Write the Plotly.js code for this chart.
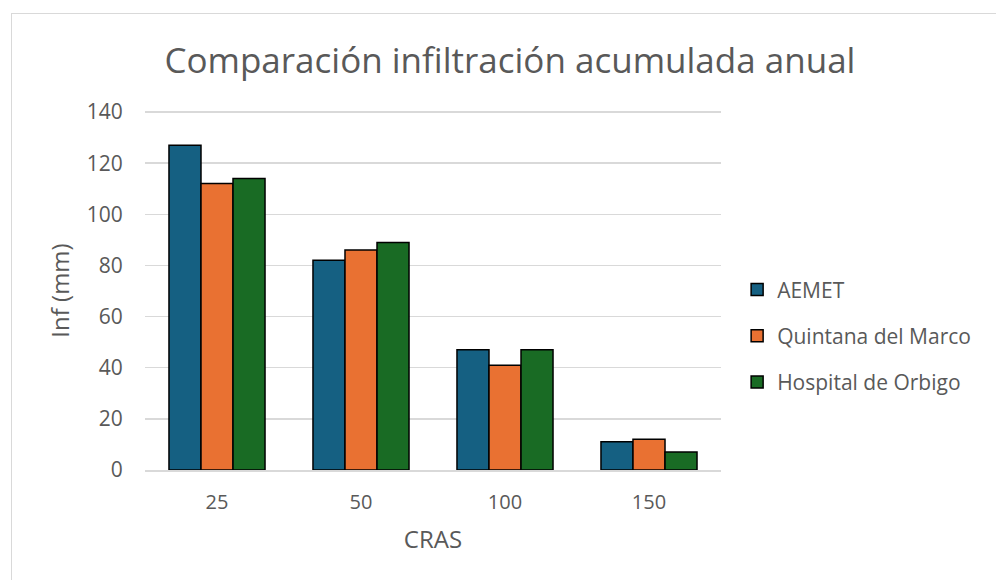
<!DOCTYPE html>
<html>
<head>
<meta charset="utf-8">
<script src="https://cdn.plot.ly/plotly-3.0.1.min.js"></script>
<style>
html,body{margin:0;padding:0;background:#fff;overflow:hidden;}
#chart{width:996px;height:580px;}
#frame{position:absolute;left:11px;top:13px;width:1000px;height:600px;border:1.5px solid #d9d9d9;pointer-events:none;}
</style>
</head>
<body>
<div id="chart"></div>
<div id="frame"></div>
<script>
const categories = ["25", "50", "100", "150"];
const seriesNames = ["AEMET", "Quintana del Marco", "Hospital de Orbigo"];
const aemet = [127, 82, 47, 11];
const quintana = [112, 86, 41, 12];
const hospital = [114, 89, 47, 7];
const colors = ["#156082", "#E97132", "#196B24"];
const yTicks = [0, 20, 40, 60, 80, 100, 120, 140];

const values = [aemet, quintana, hospital];
const font = "Open Sans, sans-serif";
const traces = values.map((v, i) => ({
  type: "bar",
  name: seriesNames[i],
  x: categories,
  y: v,
  legendgroup: "g" + i,
  marker: {color: colors[i], line: {color: "#000000", width: 1.5}},
  hoverinfo: "x+y+name"
}));

const layout = {
  width: 996, height: 580,
  margin: {l: 145, r: 275, t: 111, b: 110},
  paper_bgcolor: "#ffffff", plot_bgcolor: "#ffffff",
  font: {family: font, color: "#595959"},
  title: {text: "Comparación infiltración acumulada anual", font: {family: font, size: 35, color: "#595959"}, x: 0.512, xanchor: "center", y: 0.895, yanchor: "middle"},
  barmode: "group",
  bargap: 0.333,
  bargroupgap: 0,
  xaxis: {
    type: "category",
    tickfont: {size: 20, color: "#595959"},
    showgrid: false,
    showline: true, linecolor: "#d9d9d9", linewidth: 1.5,
    ticks: "outside", ticklen: 13, tickcolor: "rgba(0,0,0,0)",
    title: {text: "CRAS", font: {size: 24, color: "#595959"}, standoff: 17}
  },
  yaxis: {
    range: [0, 140.4],
    tickvals: yTicks,
    ticktext: yTicks.map(String),
    tickfont: {size: 21, color: "#595959"},
    showgrid: true, gridcolor: "#d9d9d9", gridwidth: 1.5,
    zeroline: false,
    showline: false,
    ticks: "outside", ticklen: 17, tickcolor: "rgba(0,0,0,0)",
    title: {text: "Inf (mm)", font: {size: 24, color: "#595959"}, standoff: 10}
  },
  legend: {
    x: 1.028, xanchor: "left", y: 0.374, yanchor: "middle",
    font: {size: 21, color: "#595959"},
    traceorder: "grouped",
    tracegroupgap: 16,
    itemwidth: 30
  },
  showlegend: true
};

Plotly.newPlot("chart", traces, layout, {displayModeBar: false, staticPlot: true});
</script>
</body>
</html>
